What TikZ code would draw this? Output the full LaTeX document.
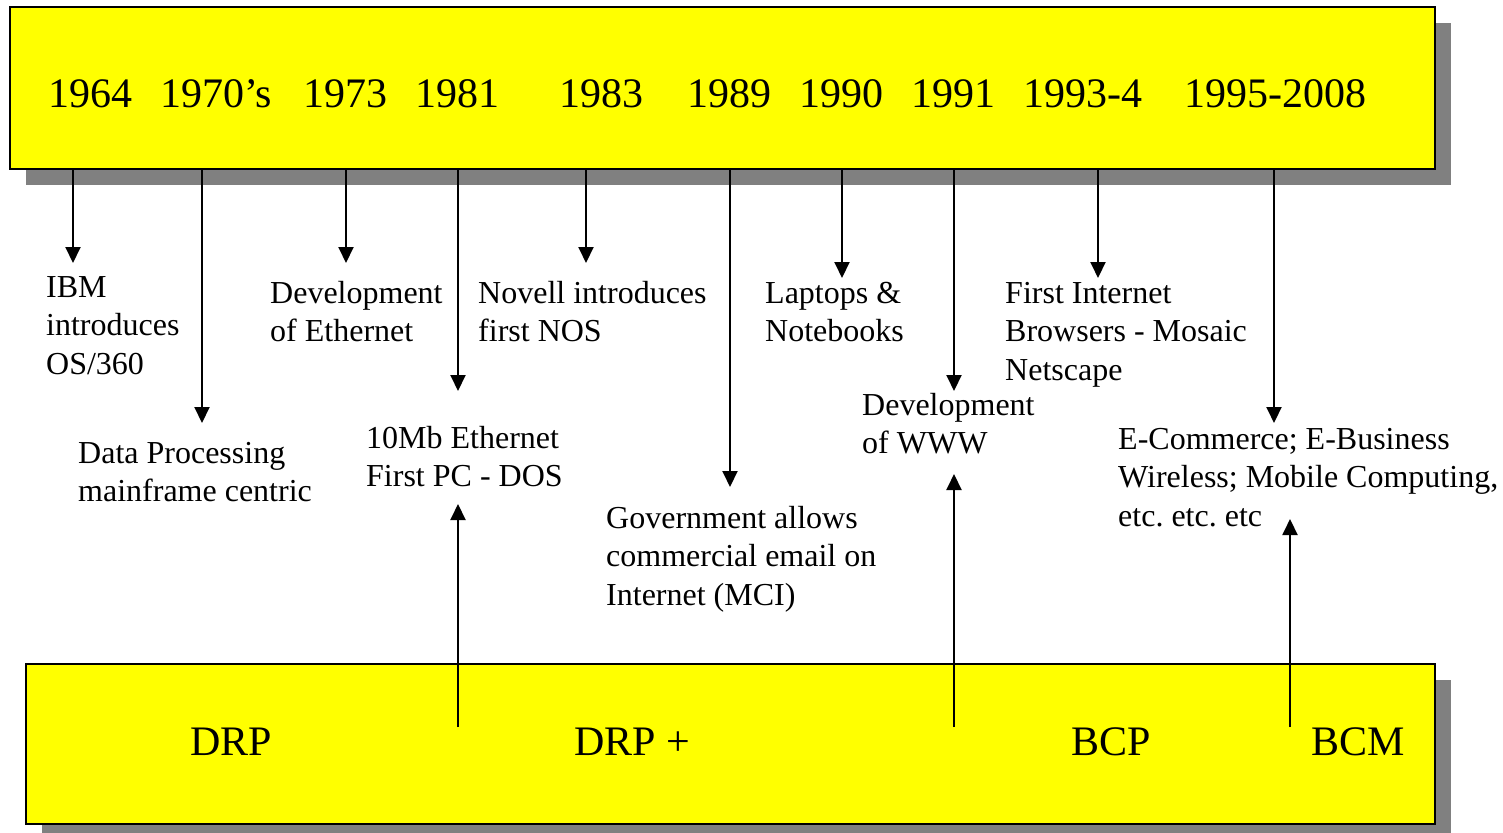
\documentclass[tikz,border=0pt]{standalone}
\usepackage{fontspec}
\setmainfont{Liberation Serif}
\usetikzlibrary{arrows.meta,shadows}
\definecolor{bandyellow}{RGB}{255,255,0}
\definecolor{shadowgray}{RGB}{128,128,128}
\frenchspacing
\newcommand{\lns}[1]{\begin{tabular}[t]{@{}l@{}}#1\end{tabular}}
\begin{document}
\begin{tikzpicture}[x=1pt,y=-1pt,
  band/.style={draw=black, line width=2pt, fill=bandyellow, inner sep=0pt, anchor=north west,
    drop shadow={shadow xshift=16pt, shadow yshift=-16pt, fill=shadowgray, opacity=1}},
  year/.style={anchor=base west, inner sep=0pt, font=\fontsize{42}{50}\selectfont},
  phase/.style={anchor=base west, inner sep=0pt, font=\fontsize{42}{50}\selectfont},
  lab/.style={anchor=base west, inner sep=0pt, font=\fontsize{32}{38.6}\selectfont\frenchspacing},
  arr/.style={line width=2pt, -{Triangle[width=15pt,length=16pt]}}]
\useasboundingbox (0,0) rectangle (1503,832);
\fill[white] (0,0) rectangle (1503,832);
% bands
\node[band, minimum width=1425pt, minimum height=162pt] (topband) at (9,6) {};
\node[band, minimum width=1409pt, minimum height=160pt] (botband) at (25,663) {};
% years
\node[year] (y1964) at (48,107) {1964};
\node[year] (y1970) at (160,107) {1970’s};
\node[year] (y1973) at (303,107) {1973};
\node[year] (y1981) at (415,107) {1981};
\node[year] (y1983) at (559,107) {1983};
\node[year] (y1989) at (687,107) {1989};
\node[year] (y1990) at (799,107) {1990};
\node[year] (y1991) at (911,107) {1991};
\node[year] (y1993) at (1023,107) {1993-4};
\node[year] (y1995) at (1184,107) {1995-2008};
% phases
\node[phase] (drp) at (190,755) {DRP};
\node[phase] (drpp) at (574,755) {DRP +};
\node[phase] (bcp) at (1071,755) {BCP};
\node[phase] (bcm) at (1311,755) {BCM};
% event labels
\node[lab] (ibm) at (46,297) {\lns{IBM\\introduces\\OS/360}};
\node[lab] (dp) at (78,463) {\lns{Data Processing\\mainframe centric}};
\node[lab] (eth) at (270,303) {\lns{Development\\of Ethernet}};
\node[lab] (pc) at (366,448) {\lns{10Mb Ethernet\\First PC - DOS}};
\node[lab] (nos) at (478,303) {\lns{Novell introduces\\first NOS}};
\node[lab] (gov) at (606,528) {\lns{Government allows\\commercial email on\\Internet (MCI)}};
\node[lab] (lap) at (765,303) {\lns{Laptops \&\\Notebooks}};
\node[lab] (www) at (862,415) {\lns{Development\\of WWW}};
\node[lab] (brw) at (1005,303) {\lns{First Internet\\Browsers - Mosaic\\Netscape}};
\node[lab] (ecom) at (1118,449) {\lns{E-Commerce; E-Business\\Wireless; Mobile Computing,\\etc. etc. etc}};
% arrow tips
\coordinate (t1964) at (73,263);
\coordinate (t1970) at (202,423);
\coordinate (t1973) at (346,263);
\coordinate (t1981) at (458,391);
\coordinate (t1983) at (586,263);
\coordinate (t1989) at (730,487);
\coordinate (t1990) at (842,278);
\coordinate (t1991) at (954,391);
\coordinate (t1993) at (1098,278);
\coordinate (t1995) at (1274,423);
\foreach \t in {t1964,t1970,t1973,t1981,t1983,t1989,t1990,t1991,t1993,t1995}
  \draw[arr] (topband.south -| \t) -- (\t);
% upward arrows from the phase band
\coordinate (s1) at (458,727); \coordinate (u1) at (458,504);
\coordinate (s2) at (954,727); \coordinate (u2) at (954,474);
\coordinate (s3) at (1290,727); \coordinate (u3) at (1290,519);
\draw[arr] (s1) -- (u1);
\draw[arr] (s2) -- (u2);
\draw[arr] (s3) -- (u3);
\end{tikzpicture}
\end{document}
